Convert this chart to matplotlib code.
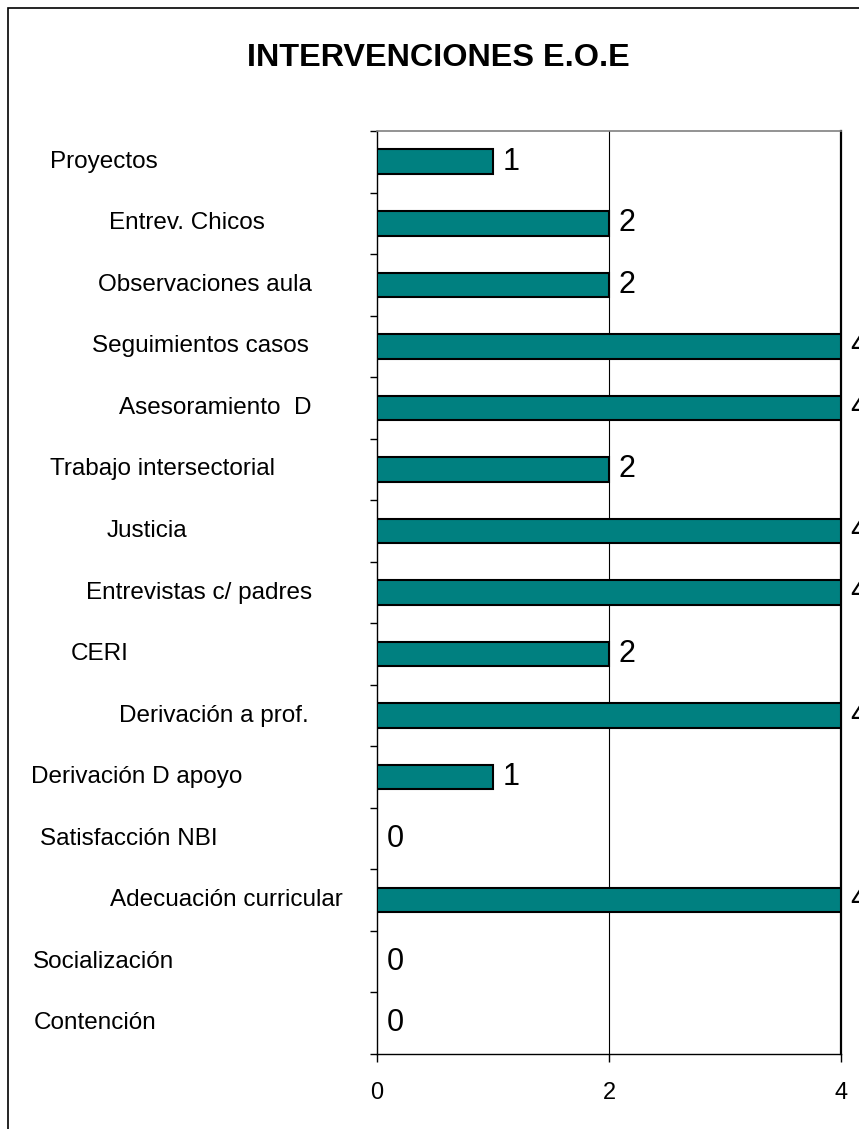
import matplotlib
matplotlib.use("Agg")
import matplotlib.pyplot as plt
import matplotlib.transforms as mtransforms
from matplotlib.patches import Rectangle
import numpy as np

plt.rcParams['font.family'] = ['Liberation Sans', 'DejaVu Sans']

categories = ["Proyectos", "Entrev. Chicos", "Observaciones aula", "Seguimientos casos",
              "Asesoramiento  D", "Trabajo intersectorial", "Justicia", "Entrevistas c/ padres",
              "CERI", "Derivación a prof.", "Derivación D apoyo", "Satisfacción NBI",
              "Adecuación curricular", "Socialización", "Contención"]
values = [1, 2, 2, 4, 4, 2, 4, 4, 2, 4, 1, 0, 4, 0, 0]
x_ticks = [0, 2, 4]
title = "INTERVENCIONES E.O.E"

# horizontal centre of each category label, in figure pixels (layout only)
label_centers_px = [104, 187, 204.5, 200, 215, 162.5, 146.5, 199.5, 100, 213.5,
                    137, 128.5, 226, 104, 95]

W, H = 859, 1129
fig = plt.figure(figsize=(W / 100, H / 100), dpi=100)
fig.patch.set_facecolor('white')

# outer chart border (extends past right/bottom edge)
fig.patches.append(Rectangle((8 / W, -0.1), 1.2, 1 - 8 / H + 0.1, transform=fig.transFigure,
                             fill=False, edgecolor='black', linewidth=1.2, zorder=0))

ax = fig.add_axes([377 / W, 1 - 1054 / H, 464 / W, 923 / H])
n = len(categories)
pos = np.arange(n)

mask = [v > 0 for v in values]
ax.barh(pos[mask], np.array(values)[mask], height=0.4, color='#008080',
        edgecolor='black', linewidth=1.5, zorder=3)

ax.set_xlim(0, 4)
ax.set_ylim(n - 0.5, -0.5)

# gridline
ax.axvline(2, color='black', linewidth=0.8, zorder=1)

for sp in ['left', 'bottom', 'right']:
    ax.spines[sp].set_color('black')
    ax.spines[sp].set_linewidth(1.0)
ax.spines['right'].set_linewidth(1.6)
ax.spines['top'].set_color('#808080')
ax.spines['top'].set_linewidth(1.2)

ax.set_xticks(x_ticks)
ax.set_xticklabels([str(t) for t in x_ticks])
ax.tick_params(axis='x', direction='out', length=6, width=1, pad=14, labelsize=17)

ax.set_yticks([])
ax.set_yticks(np.arange(n + 1) - 0.5, minor=True)
ax.tick_params(axis='y', which='minor', direction='out', length=5, width=1)
ax.tick_params(axis='y', which='major', length=0)

# value labels
for p, v in zip(pos, values):
    ax.annotate(str(v), xy=(v, p), xytext=(7, 0), textcoords='offset points',
                ha='left', va='center', fontsize=22, annotation_clip=False, zorder=4)

# category labels
trans = mtransforms.blended_transform_factory(fig.transFigure, ax.transData)
for p, lab, cx in zip(pos, categories, label_centers_px):
    fig.text(cx / W, p, lab, transform=trans, ha='center', va='center', fontsize=17.5)

fig.text(438.5 / W, 1 - 58 / H, title, ha='center', va='center',
         fontsize=23.3, fontweight='bold')

fig.savefig('out.png', dpi=100)
